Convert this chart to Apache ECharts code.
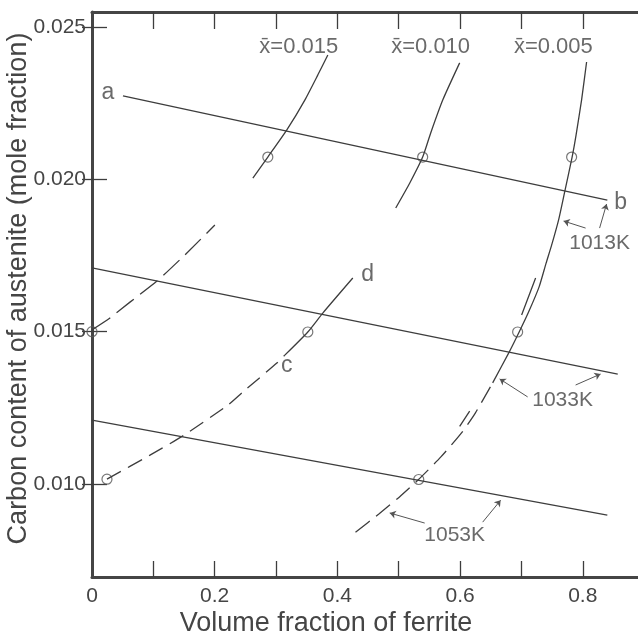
<!DOCTYPE html>
<html>
<head>
<meta charset="utf-8">
<script src="https://cdn.jsdelivr.net/npm/echarts@6/dist/echarts.min.js"></script>
<style>
  html, body { margin: 0; padding: 0; background: #fff; }
  #chart { width: 638px; height: 641px; }
</style>
</head>
<body>
<div id="chart"></div>
<script>
// 轴刻度
var xTickValues = [0.1, 0.2, 0.3, 0.4, 0.5, 0.6, 0.7, 0.8];
var xLabelValues = [0, 0.2, 0.4, 0.6, 0.8];
var xLabels = ['0', '0.2', '0.4', '0.6', '0.8'];
var yTickValues = [0.010, 0.015, 0.020, 0.025];
var yLabels = ['0.010', '0.015', '0.020', '0.025'];

// 温度线 (tie lines)
var line1013 = [[0.0505, 0.02274], [0.840, 0.01932]];
var line1033 = [[0, 0.01709], [0.857, 0.01361]];
var line1053 = [[0, 0.0121], [0.840, 0.00898]];

// x̄ = 0.015
var c015Dash = [[0, 0.01506], [0.0293, 0.01545], [0.0619, 0.01597], [0.1059, 0.01666], [0.1515, 0.01752], [0.2003, 0.0185]];
var c015Solid = [[0.2622, 0.02004], [0.2866, 0.02073], [0.3176, 0.02162], [0.3469, 0.0226], [0.368, 0.02342], [0.3844, 0.02408]];
// x̄ = 0.010
var c010 = [[0.4951, 0.01906], [0.518, 0.01988], [0.539, 0.02073], [0.5521, 0.02152], [0.5717, 0.0226], [0.5993, 0.02382]];
// x̄ = 0.005
var c005Solid = [[0.6531, 0.01332], [0.6800, 0.01433], [0.6963, 0.01499], [0.7109, 0.01561], [0.7288, 0.01647],
  [0.7402, 0.01725], [0.7492, 0.01784], [0.7606, 0.01867], [0.7704, 0.01958], [0.7826, 0.02073],
  [0.7891, 0.02146], [0.7980, 0.0226], [0.8062, 0.02385]];
var c005Dash = [[0.4295, 0.00842], [0.4676, 0.00902], [0.5008, 0.00957], [0.5313, 0.01013], [0.5687, 0.01089],
  [0.6020, 0.01167], [0.6248, 0.01233], [0.6531, 0.01332]];
var c005Side = [[0.7231, 0.01676], [0.7003, 0.01555], null, [0.6156, 0.01239], [0.5993, 0.01189]];
// c - d
var cdDash = [[0.0244, 0.01016], [0.0945, 0.01095], [0.1482, 0.01158], [0.2215, 0.01259], [0.2459, 0.01302], [0.3013, 0.01397], [0.3143, 0.01423]];
var cdSolid = [[0.3143, 0.01423], [0.3518, 0.01499], [0.3762, 0.01561], [0.4251, 0.01676]];

// 圆圈
var circles = [[0, 0.0150], [0.0244, 0.01016], [0.2866, 0.02073], [0.539, 0.02073], [0.7818, 0.02073],
  [0.3518, 0.01499], [0.6938, 0.01499], [0.5326, 0.01015]];

// 箭头
var arrows = [
  [[0.8274, 0.0184], [0.8388, 0.01919]],
  [[0.8046, 0.0184], [0.7687, 0.01863]],
  [[0.7101, 0.01286], [0.6645, 0.01345]],
  [[0.7883, 0.01325], [0.829, 0.01361]],
  [[0.5423, 0.00872], [0.4853, 0.00905]],
  [[0.6368, 0.00875], [0.6661, 0.00947]]
];

// 文字标注
var notes = [
  {name: 'x\u0304=0.015', value: [0.337, 0.02434], size: 22},
  {name: 'x\u0304=0.010', value: [0.552, 0.02434], size: 22},
  {name: 'x\u0304=0.005', value: [0.752, 0.02434], size: 22},
  {name: '1013K', value: [0.8274, 0.01790], size: 21},
  {name: '1033K', value: [0.7671, 0.01276], size: 21},
  {name: '1053K', value: [0.5912, 0.00833], size: 21},
  {name: 'a', value: [0.026, 0.02284], size: 23},
  {name: 'b', value: [0.8616, 0.01922], size: 23},
  {name: 'c', value: [0.3176, 0.01390], size: 23},
  {name: 'd', value: [0.4495, 0.01686], size: 23}
];

var ink = '#3d3d3d';
var textInk = '#454545';
var font = 'Liberation Sans';

function pick(values, labels, v) {
  for (var i = 0; i < values.length; i++) {
    if (Math.abs(values[i] - v) < 1e-9) return labels[i];
  }
  return '';
}

function curve(data, dash, smooth) {
  return {
    type: 'line', data: data, showSymbol: false, smooth: smooth ? 0.2 : false,
    connectNulls: false, silent: true,
    lineStyle: {color: ink, width: 1.3, type: dash || 'solid'}
  };
}

var chart = echarts.init(document.getElementById('chart'));

var option = {
  animation: false,
  backgroundColor: '#fff',
  grid: {left: 92, right: 0, top: 12, bottom: 64, containLabel: false, outerBoundsMode: 'none'},
  xAxis: [{
    type: 'value', min: 0, max: 0.89,
    name: 'Volume fraction of ferrite', nameLocation: 'middle', nameGap: 33, nameMoveOverlap: false,
    nameTextStyle: {fontFamily: font, fontSize: 27, color: textInk, padding: [0, 78, 0, 0]},
    axisLine: {lineStyle: {color: '#454545', width: 3}},
    axisTick: {inside: true, length: 16, lineStyle: {color: ink, width: 1.3}, customValues: xTickValues},
    axisLabel: {customValues: xLabelValues, margin: 9, fontFamily: font, fontSize: 21, color: textInk,
      formatter: function (v) { return pick(xLabelValues, xLabels, v); }},
    splitLine: {show: false}
  }, {
    type: 'value', min: 0, max: 0.89, position: 'top',
    axisLine: {lineStyle: {color: '#454545', width: 3}},
    axisTick: {inside: true, length: 17, lineStyle: {color: ink, width: 1.3}, customValues: xTickValues},
    axisLabel: {show: false},
    splitLine: {show: false}
  }],
  yAxis: [{
    type: 'value', min: 0.00695, max: 0.02549,
    name: 'Carbon content of austenite (mole fraction)', nameLocation: 'middle', nameGap: 60, nameMoveOverlap: false,
    nameTextStyle: {fontFamily: font, fontSize: 27, color: textInk, padding: [0, 0, 0, 12]},
    axisLine: {lineStyle: {color: '#454545', width: 3}},
    axisTick: {inside: true, length: 15, lineStyle: {color: ink, width: 1.3}, customValues: yTickValues},
    axisLabel: {customValues: yTickValues, margin: 6, fontFamily: font, fontSize: 21, color: textInk,
      formatter: function (v) { return pick(yTickValues, yLabels, v); }},
    splitLine: {show: false}
  }, {
    type: 'value', min: 0.00695, max: 0.02549, position: 'right',
    axisLine: {show: false},
    axisTick: {show: true, inside: true, length: 10, lineStyle: {color: ink, width: 1.3}, customValues: yTickValues},
    axisLabel: {show: false},
    splitLine: {show: false}
  }],
  series: [
    curve(line1013, null, false),
    curve(line1033, null, false),
    curve(line1053, null, false),
    curve(c015Dash, [22, 8], true),
    curve(c015Solid, null, true),
    curve(c010, null, true),
    curve(c005Solid, null, true),
    curve(c005Dash, [18, 8], true),
    curve(c005Side, null, false),
    curve(cdDash, [16, 8], true),
    curve(cdSolid, null, true),
    {
      type: 'scatter', data: circles, symbol: 'circle', symbolSize: 10, silent: true,
      itemStyle: {color: 'rgba(0,0,0,0)', borderColor: '#555', borderWidth: 1.2}
    },
    {
      type: 'lines', coordinateSystem: 'cartesian2d', silent: true,
      data: arrows.map(function (a) { return {coords: a}; }),
      symbol: ['none', 'arrow'], symbolSize: 6,
      lineStyle: {color: '#555', width: 1, opacity: 1}
    },
    {
      type: 'scatter', symbolSize: 1, silent: true,
      itemStyle: {color: 'rgba(0,0,0,0)'},
      data: notes.map(function (n) {
        return {name: n.name, value: n.value,
          label: {show: true, position: 'inside', formatter: '{b}', fontFamily: font, fontSize: n.size, color: textInk}};
      })
    }
  ]
};

chart.setOption(option);
</script>
</body>
</html>
